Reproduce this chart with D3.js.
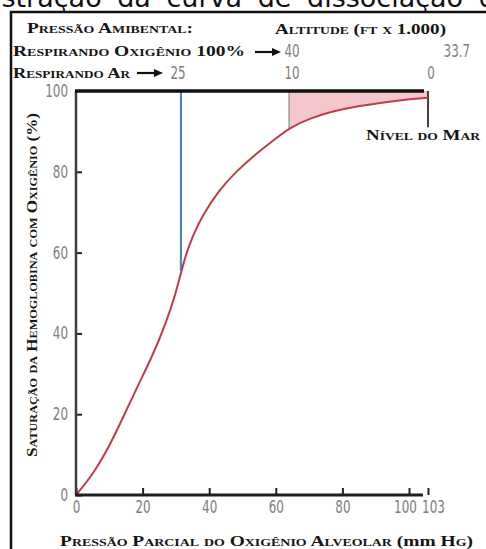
<!DOCTYPE html>
<html>
<head>
<meta charset="utf-8">
<script src="https://cdn.jsdelivr.net/npm/d3@7"></script>
<style>
  body { margin: 0; background: #fff; }
  svg { display: block; }
</style>
</head>
<body>
<script>
// curva de dissociação da oxi-hemoglobina
const po2 = [0, 5, 10, 14, 19, 23, 27, 30, 31.5, 33, 35, 38, 43, 48, 53, 59, 64, 70, 81, 91, 100, 103];
const sat = [0, 5, 12, 19, 27.8, 34.5, 42.5, 50, 55, 59.5, 64, 69.3, 75.5, 80, 83.7, 87.6, 90.8, 93.3, 95.8, 97, 98, 98.3];
const xTicks = [0, 20, 40, 60, 80, 100, 103];
const yTicks = [0, 20, 40, 60, 80, 100];
const airPO2 = 31.5, airSat = 55.5;    // linha azul (25 mil pés, ar)
const shadeFrom = 64, shadeTo = 103;   // faixa rosada (10 → 0 / 40 → 33.7)
const seaLevelSat = 91;

const width = 486, height = 549;
const svg = d3.select("body").append("svg")
  .attr("width", width)
  .attr("height", height);

const x = d3.scaleLinear()
  .domain([0, 100, 103])
  .range([76, 409, 428]);

const y = d3.scaleLinear()
  .domain([0, 100])
  .range([495, 91]);

const data = po2.map((d, i) => ({p: d, s: sat[i]}));

// título cortado no topo
const titleText = "Ilustração da curva de dissociação da oxi-hemoglobina";
const title = svg.append("text")
  .attr("y", 7)
  .style("font-family", "DejaVu Sans")
  .style("font-size", "27px")
  .style("word-spacing", "7px")
  .attr("fill", "#111")
  .text(titleText);
title.attr("x", 307 - title.node().getSubStringLength(0, titleText.indexOf("dissocia")));

// moldura
svg.append("path")
  .attr("d", `M11,${height}V12H${width}`)
  .attr("fill", "none")
  .attr("stroke", "#111")
  .attr("stroke-width", 2.5);

// área sombreada
svg.append("clipPath").attr("id", "shade")
  .append("rect")
    .attr("x", x(shadeFrom))
    .attr("y", 0)
    .attr("width", x(shadeTo) - x(shadeFrom))
    .attr("height", height);

const line = d3.line().x(d => x(d.p)).y(d => y(d.s)).curve(d3.curveBasis);
const area = d3.area().x(d => x(d.p)).y0(y(100)).y1(d => y(d.s)).curve(d3.curveBasis);

svg.append("path")
  .datum(data)
  .attr("clip-path", "url(#shade)")
  .attr("d", area)
  .attr("fill", "#f5c7cc");

svg.append("line")
  .attr("x1", x(shadeFrom)).attr("x2", x(shadeFrom))
  .attr("y1", y(100)).attr("y2", y(sat[po2.indexOf(shadeFrom)]))
  .attr("stroke", "#a09898")
  .attr("stroke-width", 1.5);

// linha azul
svg.append("line")
  .attr("x1", x(airPO2)).attr("x2", x(airPO2))
  .attr("y1", y(100)).attr("y2", y(airSat))
  .attr("stroke", "#3b82c4")
  .attr("stroke-width", 2);

// nível do mar
svg.append("line")
  .attr("x1", x(shadeTo)).attr("x2", x(shadeTo))
  .attr("y1", y(100)).attr("y2", y(seaLevelSat))
  .attr("stroke", "#3a2a2a")
  .attr("stroke-width", 1.8);

// curva
svg.append("path")
  .datum(data)
  .attr("d", line)
  .attr("fill", "none")
  .attr("stroke", "#c03c48")
  .attr("stroke-width", 2);

// números em fonte estreita
const numFont = "'DejaVu Sans Condensed', 'Liberation Sans Narrow', 'Liberation Sans'";
const numLen = s => s.replace(/[^0-9]/g, "").length * 7.6 + s.replace(/[0-9]/g, "").length * 3.6;

function narrow(sel) {
  sel.style("font-family", numFont)
    .style("font-size", "17px")
    .attr("fill", "#7d7d7d")
    .attr("textLength", function() { return numLen(this.textContent); })
    .attr("lengthAdjust", "spacingAndGlyphs");
}

// eixos
const xRight = x.range()[1] + 14;

const gy = svg.append("g")
  .attr("transform", `translate(${x(0)},0)`)
  .call(d3.axisLeft(y).tickValues(yTicks).tickSizeInner(-6).tickSizeOuter(0).tickPadding(8))
  .call(g => g.select(".domain").remove());

const gx = svg.append("g")
  .attr("transform", `translate(0,${y(0)})`)
  .call(d3.axisBottom(x).tickValues(xTicks).tickSizeInner(-7).tickSizeOuter(0).tickPadding(6))
  .call(g => g.select(".domain").remove());

gx.selectAll(".tick text")
  .attr("dx", d => d === 100 ? -4 : d === 103 ? 5 : 0);

[gx, gy].forEach(g => {
  g.selectAll(".tick line").attr("stroke", "#222").attr("stroke-width", 2);
  g.selectAll(".tick text").call(narrow);
});
gy.selectAll(".tick").filter(d => d === 100).select("line").remove();

svg.append("line")
  .attr("x1", x(0)).attr("x2", x(0))
  .attr("y1", y(100)).attr("y2", y(0))
  .attr("stroke", "#3c3c3c")
  .attr("stroke-width", 2.5);

svg.append("line")
  .attr("x1", x(0) - 1).attr("x2", xRight)
  .attr("y1", y(0)).attr("y2", y(0))
  .attr("stroke", "#1e1e1e")
  .attr("stroke-width", 3);

svg.append("line")
  .attr("x1", x(0) - 1).attr("x2", xRight + 1)
  .attr("y1", y(100)).attr("y2", y(100))
  .attr("stroke", "#111")
  .attr("stroke-width", 3.5);

// textos
const capsFont = "'Liberation Serif', serif";

function label(txt, px, py, len, size, opts = {}) {
  const t = svg.append("text")
    .attr("x", px)
    .attr("y", py)
    .style("font-family", capsFont)
    .style("font-weight", "bold")
    .style("font-size", size + "px")
    .style("font-variant", opts.smallCaps ? "small-caps" : "normal")
    .attr("fill", "#151515")
    .text(txt);
  if (len) t.attr("textLength", len).attr("lengthAdjust", "spacingAndGlyphs");
  if (opts.rotate) t.attr("transform", `rotate(-90,${px},${py})`);
  return t;
}

function num(txt, px, py, anchor) {
  svg.append("text")
    .attr("x", px)
    .attr("y", py)
    .attr("text-anchor", anchor || "middle")
    .text(txt)
    .call(narrow);
}

function arrow(x0, x1, py) {
  svg.append("path")
    .attr("d", `M${x0},${py}H${x1 - 7}`)
    .attr("stroke", "#111")
    .attr("stroke-width", 2.2);
  svg.append("path")
    .attr("d", `M${x1 - 9},${py - 4}L${x1},${py}L${x1 - 9},${py + 4}Z`)
    .attr("fill", "#111");
}

label("Pressão Amibental:", 27, 33, 166, 14, {smallCaps: true});
label("Altitude (ft x 1.000)", 275, 34, 171, 14, {smallCaps: true});
label("Respirando Oxigênio 100%", 13, 56, 232, 14, {smallCaps: true});
label("Respirando Ar", 13, 78, 117, 14, {smallCaps: true});

arrow(255, 281, 52);
arrow(137, 163, 73);

num("40", x(shadeFrom) + 3, 57);
num("33.7", 470, 57, "end");
num("25", 178, 79);
num("10", x(shadeFrom) + 3, 79);
num("0", 431, 79);

label("Nível do Mar", 366, 140, 114, 14, {smallCaps: true});

label("Saturação da Hemoglobina com Oxigênio (%)", 37, 457, 344, 14, {smallCaps: true, rotate: true});

const xt = svg.append("text")
  .attr("x", 60)
  .attr("y", 546)
  .style("font-family", capsFont)
  .style("font-weight", "bold")
  .style("font-size", "14px")
  .attr("fill", "#151515")
  .attr("textLength", 413)
  .attr("lengthAdjust", "spacingAndGlyphs");
xt.append("tspan").style("font-variant", "small-caps").text("Pressão Parcial do Oxigênio Alveolar (");
xt.append("tspan").text("mm  ");
xt.append("tspan").style("font-variant", "small-caps").text("Hg)");
</script>
</body>
</html>
